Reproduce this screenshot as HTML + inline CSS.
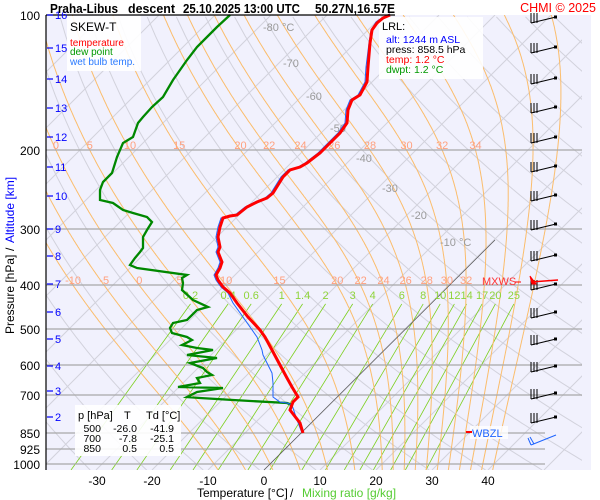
<!DOCTYPE html>
<html><head><meta charset="utf-8"><style>
body{margin:0;background:#fff;}
svg{display:block;font-family:"Liberation Sans",sans-serif;}
</style></head><body>
<svg id="s" width="600" height="500" xmlns="http://www.w3.org/2000/svg">
<defs><clipPath id="c"><rect x="46" y="15" width="536" height="455"/></clipPath></defs>
<rect x="46" y="15" width="545" height="455" fill="#f1f1fd"/>
<g id="grid" clip-path="url(#c)"></g>
<g id="hl" stroke="#a8a8a8" stroke-width="1.2">
<line x1="46" y1="150" x2="582" y2="150"/><line x1="46" y1="229" x2="582" y2="229"/>
<line x1="46" y1="285" x2="582" y2="285"/><line x1="46" y1="329" x2="582" y2="329"/>
<line x1="46" y1="365" x2="582" y2="365"/><line x1="46" y1="395" x2="582" y2="395"/>
<line x1="46" y1="433" x2="545" y2="433"/><line x1="46" y1="449" x2="545" y2="449"/>
<line x1="46" y1="464" x2="545" y2="464"/>
</g>
<line x1="264" y1="470" x2="495" y2="240" stroke="#555" stroke-width="0.7"/>
<g id="lab" font-size="11"></g>
<rect x="67" y="16" width="74" height="55" fill="#fff" opacity="0.9"/>
<text x="70" y="31" font-size="12">SKEW-T</text>
<text x="70" y="46" font-size="10" fill="#f00">temperature</text>
<text x="70" y="55" font-size="10" fill="#090">dew point</text>
<text x="70" y="65" font-size="10" fill="#2a7aff">wet bulb temp.</text>
<rect x="379" y="17" width="104" height="62" fill="#fff" opacity="0.9"/>
<text x="382" y="30" font-size="11">LRL:</text>
<text x="386" y="43" font-size="10.5" fill="#00f">alt: 1244 m ASL</text>
<text x="386" y="53" font-size="10.5">press: 858.5 hPa</text>
<text x="386" y="63" font-size="10.5" fill="#f00">temp: 1.2 °C</text>
<text x="386" y="73" font-size="10.5" fill="#090">dwpt: 1.2 °C</text>
<rect x="75" y="405" width="106" height="51" fill="#fff" opacity="0.9"/>
<g font-size="11"><text x="78" y="419">p [hPa]</text><text x="124" y="419">T</text><text x="146" y="419">Td [°C]</text></g>
<g font-size="10.5" text-anchor="end">
<text x="101" y="432">500</text><text x="137" y="432">-26.0</text><text x="174" y="432">-41.9</text>
<text x="101" y="442">700</text><text x="137" y="442">-7.8</text><text x="174" y="442">-25.1</text>
<text x="101" y="452">850</text><text x="137" y="452">0.5</text><text x="174" y="452">0.5</text>
</g>
<polyline fill="none" stroke="#080" stroke-width="2.3" points="230,15 217,27 207,37 197,47 187,60 173,80 163,97 152,107 143,117 138,123 133,137 123,143 117,157 112,173 103,182 100,190 100,200 113,203 123,210 133,213 147,217 152,222 147,230 143,237 143,248 140,252 135,258 130,265 137,268 187,275 182,278 183,283 182,290 193,300 208,307 197,310 187,320 173,323 170,328 172,333 187,337 192,340 182,345 197,348 213,350 187,355 217,358 190,363 203,368 207,372 212,375 197,378 200,383 178,387 223,388 197,392 187,397 200,398 233,400 287,403 292,405"/>
<polyline fill="none" stroke="#1e64ff" stroke-width="1" points="390,14 383,17 376,22 371,30 369,43 366,67 365,82 358,95 350,100 346,110 345,123 338,133 328,143 318,153 305,163 298,167 288,170 281,177 276,185 271,193 265,198 255,202 245,207 235,215 228,216 221,218 218,227 216,237 218,247 216,252 220,262 218,268 214,275 216,280 221,287 228,293 233,303 243,317 257,337 262,350 263,355 267,363 272,373 273,383 273,397 280,402 287,403 292,405 297,420 302,433"/>
<polyline fill="none" stroke="#f00" stroke-width="3" points="390,15 383,18 377,23 372,30 370,43 368,67 367,82 360,95 352,100 348,110 347,123 340,133 330,143 320,153 307,163 300,167 290,170 283,177 278,185 273,193 267,198 257,202 247,207 237,215 230,216 223,218 220,227 218,237 220,247 218,252 222,262 220,268 216,275 218,280 223,287 230,293 237,303 248,317 260,330 265,337 272,350 280,365 287,378 292,387 298,397 293,402 290,410 300,423 303,433"/>
<line x1="46" y1="15" x2="395" y2="15" stroke="#000" stroke-width="1.2"/>
<line x1="46" y1="15" x2="46" y2="470" stroke="#000" stroke-width="1.2"/>
<g font-size="12" text-anchor="end">
<text x="40" y="20">100</text><text x="40" y="155">200</text><text x="40" y="234">300</text>
<text x="40" y="290">400</text><text x="40" y="334">500</text><text x="40" y="370">600</text>
<text x="40" y="400">700</text><text x="40" y="438">850</text><text x="40" y="454">925</text><text x="40" y="469">1000</text>
</g>
<g id="km" font-size="11" fill="#00f"></g>
<g font-size="12" text-anchor="middle">
<text x="97" y="485">-30</text><text x="152" y="485">-20</text><text x="208" y="485">-10</text>
<text x="264" y="485">0</text><text x="320" y="485">10</text><text x="376" y="485">20</text>
<text x="432" y="485">30</text><text x="488" y="485">40</text>
</g>
<text x="197" y="497" font-size="12">Temperature [°C]</text>
<text x="290" y="497" font-size="12">/</text>
<text x="302" y="497" font-size="12" fill="#5c3">Mixing ratio [g/kg]</text>
<text transform="translate(14,334) rotate(-90)" font-size="12">Pressure [hPa]</text>
<text transform="translate(14,251) rotate(-90)" font-size="12">/</text>
<text transform="translate(14,243) rotate(-90)" font-size="12" fill="#00f">Altitude [km]</text>
<g font-size="13" font-weight="bold">
<text x="50" y="13" textLength="68" lengthAdjust="spacingAndGlyphs">Praha-Libus</text>
<text x="128" y="13" textLength="47" lengthAdjust="spacingAndGlyphs">descent</text>
<text x="183" y="13" textLength="117" lengthAdjust="spacingAndGlyphs">25.10.2025 13:00 UTC</text>
<text x="315" y="13" textLength="80" lengthAdjust="spacingAndGlyphs">50.27N,16.57E</text>
</g>
<text x="596" y="12" font-size="12.5" fill="#f00" text-anchor="end">CHMI © 2025</text>
<text x="482" y="285" font-size="11" fill="#f33">MXWS</text>
<line x1="515" y1="282" x2="521" y2="282" stroke="#f00"/>
<rect x="470" y="426" width="38" height="13" fill="#fff" opacity="0.8"/>
<line x1="466" y1="432" x2="472" y2="432" stroke="#f00" stroke-width="2"/>
<text x="472" y="437" font-size="11" fill="#1e64ff">WBZL</text>
<g id="wind" stroke="#000" stroke-width="1" fill="none"></g>
</svg>
<script>
var NS="http://www.w3.org/2000/svg";
function Y(p){return 15+195*Math.log(p/100);}
function X(T,p){return 264+5.6*T+(470-Y(p));}
function el(par,tag,a,txt){var e=document.createElementNS(NS,tag);for(var k in a)e.setAttribute(k,a[k]);if(txt!==undefined)e.textContent=txt;document.getElementById(par).appendChild(e);return e;}
function pl(par,pts,st,w){el(par,"polyline",{points:pts.map(function(q){return q[0].toFixed(1)+","+q[1].toFixed(1)}).join(" "),fill:"none",stroke:st,"stroke-width":w});}
for(var T=-130;T<=50;T+=10){pl("grid",[[X(T,1031),Y(1031)],[X(T,100),Y(100)]],"#d2d2dc",1);}
for(var th=240;th<=480;th+=10){var a=[];for(var p=1031;p>=100;p-=10){var t=th*Math.pow(p/1000,0.2857)-273.15;a.push([X(t,p),Y(p)]);}pl("grid",a,"#d2d2dc",1);}
var ws=[0.2,0.4,0.6,1,1.4,2,3,4,6,8,10,12,14,17,20,25];
function tdw(w,p){var e=p*w/1000/(0.622+w/1000);var l=Math.log(e/6.112);return 243.5*l/(17.67-l);}
ws.forEach(function(w){var p0=1031,p1=440;pl("grid",[[X(tdw(w,p0),p0),Y(p0)],[X(tdw(w,p1),p1),Y(p1)]],"#7ccf1e",0.8);
 el("lab","text",{x:X(tdw(w,p1),p1).toFixed(1),y:299,fill:"#8fd43a","text-anchor":"middle"},String(w));});
function es(T){return 6.112*Math.exp(17.67*(T-273.15)/(T-29.65));}
function dT(T,p){var e=es(T),rs=0.622*e/(p-e),Rd=287,cp=1004,L=2.5e6;return (Rd*T+L*rs)/(p*(cp+L*L*rs*0.622/(Rd*T*T)));}
var thw=[-10,-5,0,5,10,15,20,22,24,26,28,30,32,34,36,38,40];
thw.forEach(function(tw){var T=tw+273.15,p;
 var pts=[],at200=null,at400=null;
 for(var q=1000;q<1031;q+=1){T+=dT(T,q);}
 p=1031;
 while(p>=100){pts.push([X(T-273.15,p),Y(p)]);
  if(Math.abs(p-200)<0.5)at200=T-273.15; if(Math.abs(p-400)<0.5)at400=T-273.15;
  T-=dT(T,p);p-=1;}
 pl("grid",pts,"#fbbd6c",1);
 if(at200!==null&&tw>=0&&tw<=34)el("lab","text",{x:X(at200,200).toFixed(1),y:149,fill:"#ffa07e","text-anchor":"middle"},String(tw));
 if(at400!==null&&tw<=32)el("lab","text",{x:X(at400,400).toFixed(1),y:284,fill:"#ffa07e","text-anchor":"middle"},String(tw));
});
[[-80,"-80 °C",27],[-70,"-70",63],[-60,"-60",96],[-50,"-50",128],[-40,"-40",158],[-30,"-30",188],[-20,"-20",215],[-10,"-10 °C",242]].forEach(function(d){
 var x=264+5.6*d[0]+(470-d[2]);el("lab","text",{x:x+4,y:d[2]+4,fill:"#9a9a9a"},d[1]);});
[[16,15],[15,48],[14,79],[13,108],[12,137],[11,167],[10,196],[9,229],[8,256],[7,284],[6,312],[5,339],[4,366],[3,391],[2,417]].forEach(function(k){
 el("km","line",{x1:47,x2:53,y1:k[1],y2:k[1],stroke:"#00f","stroke-width":1.2});
 el("km","text",{x:55,y:k[1]+4},String(k[0]));});
[17,47,78,107,137,166,195,224,255,284,312,339,366,393,417].forEach(function(y,i){
 el("wind","line",{x1:531,y1:y+6,x2:556,y2:y});
 el("wind","rect",{x:554,y:y-1.5,width:3,height:3,fill:"#000",stroke:"none"});
 for(var j=0;j<3;j++)el("wind","line",{x1:531+j*3,y1:y+6,x2:531+j*3,y2:y-4});
});
el("wind","line",{x1:531,y1:282,x2:558,y2:280,stroke:"#f00","stroke-width":1.5});
el("wind","polygon",{points:"530,276 532,284 536,284",fill:"#f00",stroke:"#f00"});
el("wind","line",{x1:531,y1:445,x2:556,y2:435,stroke:"#1e64ff"});
el("wind","line",{x1:531,y1:445,x2:528,y2:438,stroke:"#1e64ff"});
el("wind","line",{x1:534,y1:444,x2:530,y2:437,stroke:"#1e64ff"});
</script>
</body></html>
